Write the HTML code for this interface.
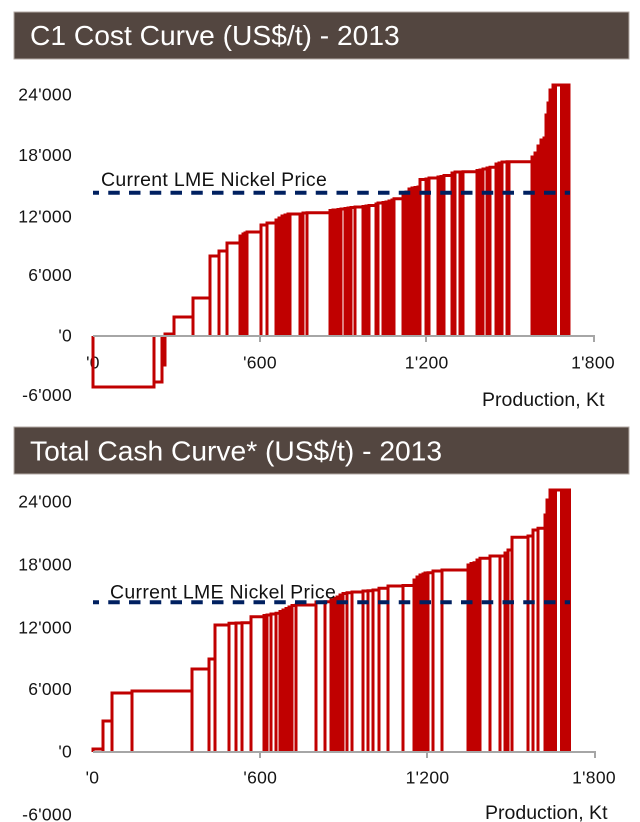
<!DOCTYPE html>
<html>
<head>
<meta charset="utf-8">
<style>
  html, body { margin: 0; padding: 0; background: #ffffff; }
  body { width: 640px; height: 822px; overflow: hidden; }
  svg { display: block; }
  .ttl { font-family: "Liberation Sans", Arial, sans-serif; font-size: 28.2px; fill: #ffffff; }
  .lbl { font-family: "Liberation Sans", Arial, sans-serif; font-size: 17.5px; fill: #141414; letter-spacing: 0.3px; }
  .ax { font-family: "Liberation Sans", Arial, sans-serif; font-size: 19.5px; fill: #141414; }
  .lme { font-family: "Liberation Sans", Arial, sans-serif; font-size: 19.5px; fill: #111111; letter-spacing: 0.3px; }
</style>
</head>
<body>
<svg width="640" height="822" viewBox="0 0 640 822" xmlns="http://www.w3.org/2000/svg">
  <rect x="14" y="12" width="615" height="47" fill="#534640" stroke="#b3aaa4" stroke-width="1"/>
  <text class="ttl" x="30" y="45">C1 Cost Curve (US$/t) - 2013</text>

  <g class="lbl" text-anchor="end">
    <text x="72" y="100.7">24'000</text>
    <text x="72" y="161">18'000</text>
    <text x="72" y="222.3">12'000</text>
    <text x="72" y="281">6'000</text>
    <text x="72" y="341.7">'0</text>
    <text x="72" y="401">-6'000</text>
  </g>
  <g class="lbl" text-anchor="middle">
    <text x="93" y="368.3">'0</text>
    <text x="260" y="368.3">'600</text>
    <text x="426.7" y="368.3">1'200</text>
    <text x="593" y="368.3">1'800</text>
  </g>
  <text class="ax" x="482" y="406">Production, Kt</text>

  <path fill="none" stroke="#c00000" stroke-width="3" stroke-linejoin="miter" d="M93 336V387H154V336 M154 336V382H162V336 M162 336V365H165V336 M165 336V334H174V336 M174 336V317H193V336 M193 336V298H210V336 M210 336V256H219V336 M219 336V251H227V336 M227 336V243H240V336 M240 336V236H243V336 M243 336V234H245V336 M245 336V233H247V336 M247 336V232H261V336 M261 336V225H267V336 M267 336V223H276V336 M276 336V220H279V336 M279 336V218H282V336 M282 336V216H285V336 M285 336V215H288V336 M288 336V214H290V336 M290 336V214H300V336 M300 336V214H303V336 M303 336V213H307V336 M307 336V212.7H330V336 M330 336V210.5H333V336 M333 336V210H335V336 M335 336V210H338V336 M338 336V209.5H341V336 M341 336V209H345V336 M345 336V208.5H348V336 M348 336V208H351V336 M351 336V207.5H355V336 M355 336V207H363V336 M363 336V206.5H366V336 M366 336V206H369V336 M369 336V205.5H376V336 M376 336V204H378V336 M378 336V203H383V336 M383 336V202.5H386V336 M386 336V202H389V336 M389 336V201H392V336 M392 336V200H394V336 M394 336V198.7H403V336 M403 336V195H406V336 M406 336V192H409V336 M409 336V189H412V336 M412 336V188H415V336 M415 336V187.5H418V336 M418 336V187H420V336 M420 336V179.5H426V336 M426 336V179H429V336 M429 336V178H438V336 M438 336V177H441V336 M441 336V176.5H444V336 M444 336V175.5H452V336 M452 336V173H455V336 M455 336V172H460V336 M460 336V172H463V336 M463 336V171.7H477V336 M477 336V170.5H480V336 M480 336V170H483V336 M483 336V169H487V336 M487 336V168H490V336 M490 336V167.3H496V336 M496 336V164H499V336 M499 336V163H502V336 M502 336V162H507V336 M507 336V161.7H509V336 M509 336V161.7H532V336 M532 336V157H535V336 M535 336V153H538V336 M538 336V146H541V336 M541 336V140H544V336 M544 336V138H546V336 M546 336V115H548V336 M548 336V103H550V336 M550 336V90H553V336 M553 336V85H555.5V336 M555.5 336V85H561.5V336"/>
  <rect x="560" y="83.5" width="10.5" height="252.5" fill="#c00000"/>

  <g stroke="#a6a6a6" stroke-width="2" fill="none">
    <line x1="93" y1="336" x2="594" y2="336"/>
    <line x1="260" y1="336" x2="260" y2="342"/>
    <line x1="426" y1="336" x2="426" y2="342"/>
    <line x1="594" y1="335" x2="594" y2="342"/>
  </g>

  <line x1="93" y1="192.7" x2="570" y2="192.7" stroke="#002060" stroke-width="4" stroke-dasharray="11.5 9.25" stroke-dashoffset="5.5"/>
  <text class="lme" x="101" y="186">Current LME Nickel Price</text>

  <rect x="14" y="427" width="615" height="47" fill="#534640" stroke="#b3aaa4" stroke-width="1"/>
  <text class="ttl" x="30" y="460.7">Total Cash Curve* (US$/t) - 2013</text>

  <g class="lbl" text-anchor="end">
    <text x="72" y="507.3">24'000</text>
    <text x="72" y="570.7">18'000</text>
    <text x="72" y="633.3">12'000</text>
    <text x="72" y="695">6'000</text>
    <text x="72" y="757.3">'0</text>
    <text x="72" y="820.7">-6'000</text>
  </g>
  <g class="lbl" text-anchor="middle">
    <text x="92.5" y="783.3">'0</text>
    <text x="260.3" y="783.3">'600</text>
    <text x="427.5" y="783.3">1'200</text>
    <text x="594" y="783.3">1'800</text>
  </g>
  <text class="ax" x="485" y="819">Production, Kt</text>

  <path fill="none" stroke="#c00000" stroke-width="3" stroke-linejoin="miter" d="M93 752V749H103V752 M103 752V721H112V752 M112 752V693H132V752 M132 752V691H192V752 M192 752V669H209V752 M209 752V659H215V752 M215 752V625H229V752 M229 752V623.3H236V752 M236 752V623H242V752 M242 752V622.7H251V752 M251 752V616.7H264V752 M264 752V615.5H267V752 M267 752V615H271V752 M271 752V614H276V752 M276 752V613.3H280V752 M280 752V611.5H283V752 M283 752V610H286V752 M286 752V608.5H289V752 M289 752V607H292V752 M292 752V605.5H296V752 M296 752V605H316V752 M316 752V602H325V752 M325 752V601.7H331V752 M331 752V600H334V752 M334 752V598.5H337V752 M337 752V597H340V752 M340 752V595H343V752 M343 752V593.5H347V752 M347 752V592.7H352V752 M352 752V592H363V752 M363 752V591H368V752 M368 752V590.7H373V752 M373 752V590H379V752 M379 752V588.3H388V752 M388 752V586H403V752 M403 752V585.5H414V752 M414 752V580H417V752 M417 752V577H420V752 M420 752V575H423V752 M423 752V574H425V752 M425 752V573H428V752 M428 752V572.7H433V752 M433 752V571H442V752 M442 752V570H468V752 M468 752V565H471V752 M471 752V563.5H474V752 M474 752V562.7H477V752 M477 752V560H480V752 M480 752V558.3H490V752 M490 752V556H500V752 M500 752V556H505V752 M505 752V553H508V752 M508 752V550H512V752 M512 752V537.3H528V752 M528 752V536H533V752 M533 752V530H538V752 M538 752V528.3H545V752 M545 752V515H547V752 M547 752V500H550V752 M550 752V490H553V752 M553 752V490H555.5V752 M555.5 752V490H561.5V752"/>
  <rect x="560" y="488.5" width="11" height="263.5" fill="#c00000"/>

  <g stroke="#a6a6a6" stroke-width="2" fill="none">
    <line x1="93" y1="752" x2="595" y2="752"/>
    <line x1="260" y1="752" x2="260" y2="758"/>
    <line x1="427" y1="752" x2="427" y2="758"/>
    <line x1="595" y1="751" x2="595" y2="758"/>
  </g>

  <line x1="93" y1="602.3" x2="570" y2="602.3" stroke="#002060" stroke-width="4" stroke-dasharray="11.5 9.25" stroke-dashoffset="5.5"/>
  <text class="lme" x="110" y="598.3">Current LME Nickel Price</text>
</svg>
</body>
</html>
